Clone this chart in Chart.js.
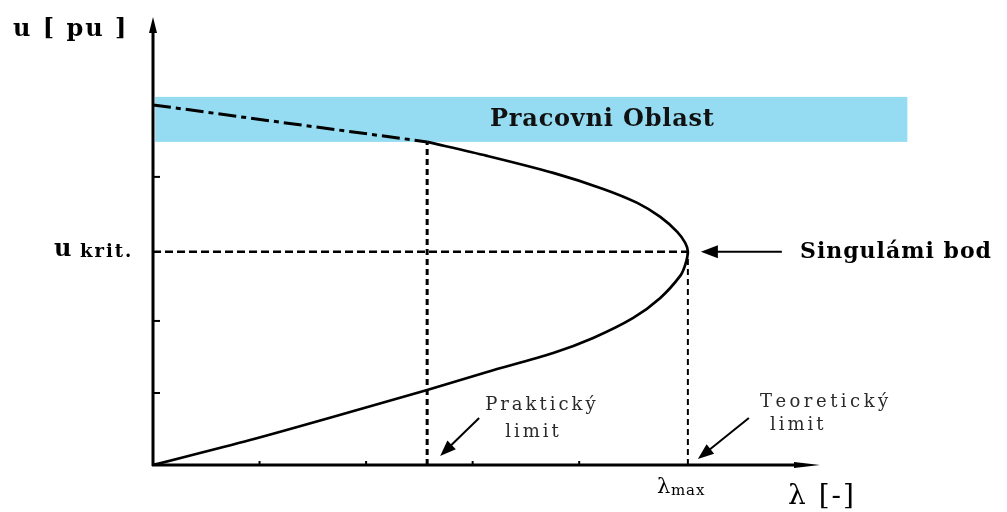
<!DOCTYPE html>
<html lang="en">
<head>
    <meta charset="UTF-8">
    <title>PV krivka</title>
    <style>
        body { margin: 0; background: #fff; }
        #pvChart { display: block; }
    </style>
    <script src="https://cdn.jsdelivr.net/npm/chart.js"></script>
</head>
<body>
    <canvas id="pvChart" width="1007" height="512"></canvas>

    <script>
        // values in axis units (x: lambda, y: u)
        const lambdaMax = 5.02;
        const lambdaPrak = 2.573;
        const uKrit = 2.96;

        // dash-dot part inside the working area
        const dashX = [0, 1.19, 2.573];
        const dashY = [5.0, 4.76, 4.486];

        // solid nose curve, upper branch then lower branch
        const curveX = [2.573, 3.136, 3.756, 4.225, 4.545, 4.761, 4.92, 4.995, 5.02, 4.995, 4.948, 4.761, 4.507, 4.131, 3.756, 3.136, 2.573, 1.85, 0.911, 0];
        const curveY = [4.486, 4.292, 4.056, 3.833, 3.639, 3.444, 3.236, 3.083, 2.96, 2.778, 2.625, 2.319, 2.042, 1.764, 1.556, 1.292, 1.042, 0.736, 0.347, 0];

        // working area band
        const bandX = [0.02, 7.08];
        const bandY = [4.486, 5.111];

        const xTicks = [1, 2, 3, 4];
        const yTicks = [1, 2, 4];

        const toPoints = (xs, ys) => xs.map((x, i) => ({ x: x, y: ys[i] }));

        const serif = '"DejaVu Serif", "Liberation Serif", serif';

        function arrow(ctx, x1, y1, x2, y2, len, wid) {
            const a = Math.atan2(y2 - y1, x2 - x1);
            ctx.beginPath();
            ctx.moveTo(x1, y1);
            ctx.lineTo(x2 - Math.cos(a) * len * 0.8, y2 - Math.sin(a) * len * 0.8);
            ctx.stroke();
            ctx.beginPath();
            ctx.moveTo(x2, y2);
            ctx.lineTo(x2 - Math.cos(a) * len - Math.sin(a) * wid / 2, y2 - Math.sin(a) * len + Math.cos(a) * wid / 2);
            ctx.lineTo(x2 - Math.cos(a) * len + Math.sin(a) * wid / 2, y2 - Math.sin(a) * len - Math.cos(a) * wid / 2);
            ctx.closePath();
            ctx.fill();
        }

        // text with extra space between letters, drawn letter by letter
        function text(ctx, str, x, y, font, spacing) {
            ctx.font = font;
            let cx = x;
            for (const ch of str) {
                ctx.fillText(ch, cx, y);
                cx += ctx.measureText(ch).width + (spacing || 0);
            }
        }

        const pvDecor = {
            id: 'pvDecor',
            beforeDatasetsDraw(chart) {
                const ctx = chart.ctx;
                const xs = chart.scales.x, ys = chart.scales.y;
                ctx.save();
                ctx.fillStyle = '#95dcf2';
                const bx = xs.getPixelForValue(bandX[0]);
                const by = ys.getPixelForValue(bandY[1]);
                ctx.fillRect(bx, by, xs.getPixelForValue(bandX[1]) - bx, ys.getPixelForValue(bandY[0]) - by);
                ctx.fillStyle = '#111';
                ctx.textAlign = 'left';
                ctx.textBaseline = 'middle';
                text(ctx, 'Pracovni Oblast', 490, (by + ys.getPixelForValue(bandY[0])) / 2, 'bold 24px ' + serif, 0.8);
                ctx.restore();
            },
            afterDatasetsDraw(chart) {
                const ctx = chart.ctx;
                const xs = chart.scales.x, ys = chart.scales.y;
                const x0 = xs.getPixelForValue(0), y0 = ys.getPixelForValue(0);
                const area = chart.chartArea;
                ctx.save();
                ctx.strokeStyle = '#000';
                ctx.fillStyle = '#000';
                ctx.lineCap = 'butt';

                // axes
                ctx.lineWidth = 3;
                arrow(ctx, x0, y0 + 1, x0, area.top, 16, 8);
                arrow(ctx, x0 - 1, y0, area.right, y0, 26, 6);

                // ticks
                ctx.lineWidth = 2;
                yTicks.forEach(v => {
                    const py = ys.getPixelForValue(v);
                    ctx.beginPath(); ctx.moveTo(x0, py); ctx.lineTo(x0 + 7, py); ctx.stroke();
                });
                xTicks.forEach(v => {
                    const px = xs.getPixelForValue(v);
                    ctx.beginPath(); ctx.moveTo(px, y0); ctx.lineTo(px, y0 - 4); ctx.stroke();
                });

                // axis titles
                ctx.textBaseline = 'middle';
                ctx.textAlign = 'left';
                text(ctx, 'u [ pu ]', 13, 30, 'bold 24px ' + serif, 2);

                const yk = ys.getPixelForValue(uKrit);
                text(ctx, 'u', 54, yk - 2, 'bold 24px ' + serif, 0);
                text(ctx, 'krit.', 80, yk + 1, 'bold 18px ' + serif, 2);

                const xm = xs.getPixelForValue(lambdaMax);
                text(ctx, '\u03bb', xm - 31, y0 + 23, '21px ' + serif, 0);
                text(ctx, 'max', xm - 17, y0 + 26, '15px ' + serif, 1);

                text(ctx, '\u03bb [-]', 788, y0 + 32, '28px ' + serif, 2);

                // singular point
                ctx.lineWidth = 2;
                arrow(ctx, xm + 94, yk, xm + 13, yk, 17, 13);
                text(ctx, 'Singulámi bod', 800, yk, 'bold 22px ' + serif, 1);

                // limits
                const xp = xs.getPixelForValue(lambdaPrak);
                arrow(ctx, xp + 52, y0 - 47, xp + 13, y0 - 9, 16, 12);
                arrow(ctx, xm + 61, y0 - 47, xm + 10, y0 - 6, 16, 12);
                ctx.fillStyle = '#2a2a2a';
                text(ctx, 'Praktický', xp + 58, y0 - 60, '18px ' + serif, 3);
                text(ctx, 'limit', xp + 78, y0 - 33, '18px ' + serif, 3);
                text(ctx, 'Teoretický', xm + 72, y0 - 63, '18px ' + serif, 3.5);
                text(ctx, 'limit', xm + 82, y0 - 40, '18px ' + serif, 3);
                ctx.restore();
            }
        };

        const line = (data, width, dash) => ({
            data: data,
            showLine: true,
            borderColor: '#000',
            borderWidth: width,
            borderDash: dash,
            pointRadius: 0,
            tension: 0,
            fill: false
        });

        const curve = line(toPoints(curveX, curveY), 2.7, []);
        curve.tension = 0.3;

        new Chart(document.getElementById('pvChart'), {
            type: 'scatter',
            data: {
                datasets: [
                    line(toPoints([lambdaPrak, lambdaPrak], [0, dashY[dashY.length - 1]]), 3, [6, 4]),
                    line(toPoints([lambdaMax, lambdaMax], [0, uKrit]), 2, [6, 4]),
                    line(toPoints([0, lambdaMax], [uKrit, uKrit]), 2.5, [8, 4]),
                    line(toPoints(dashX, dashY), 3, [18, 5, 5, 5]),
                    curve
                ]
            },
            options: {
                responsive: false,
                animation: false,
                layout: { padding: { left: 153, right: 187, top: 17, bottom: 47 } },
                plugins: { legend: { display: false }, tooltip: { enabled: false } },
                scales: {
                    x: { type: 'linear', min: 0, max: 6.26, display: false },
                    y: { type: 'linear', min: 0, max: 6.22, display: false }
                }
            },
            plugins: [pvDecor]
        });
    </script>
</body>
</html>
